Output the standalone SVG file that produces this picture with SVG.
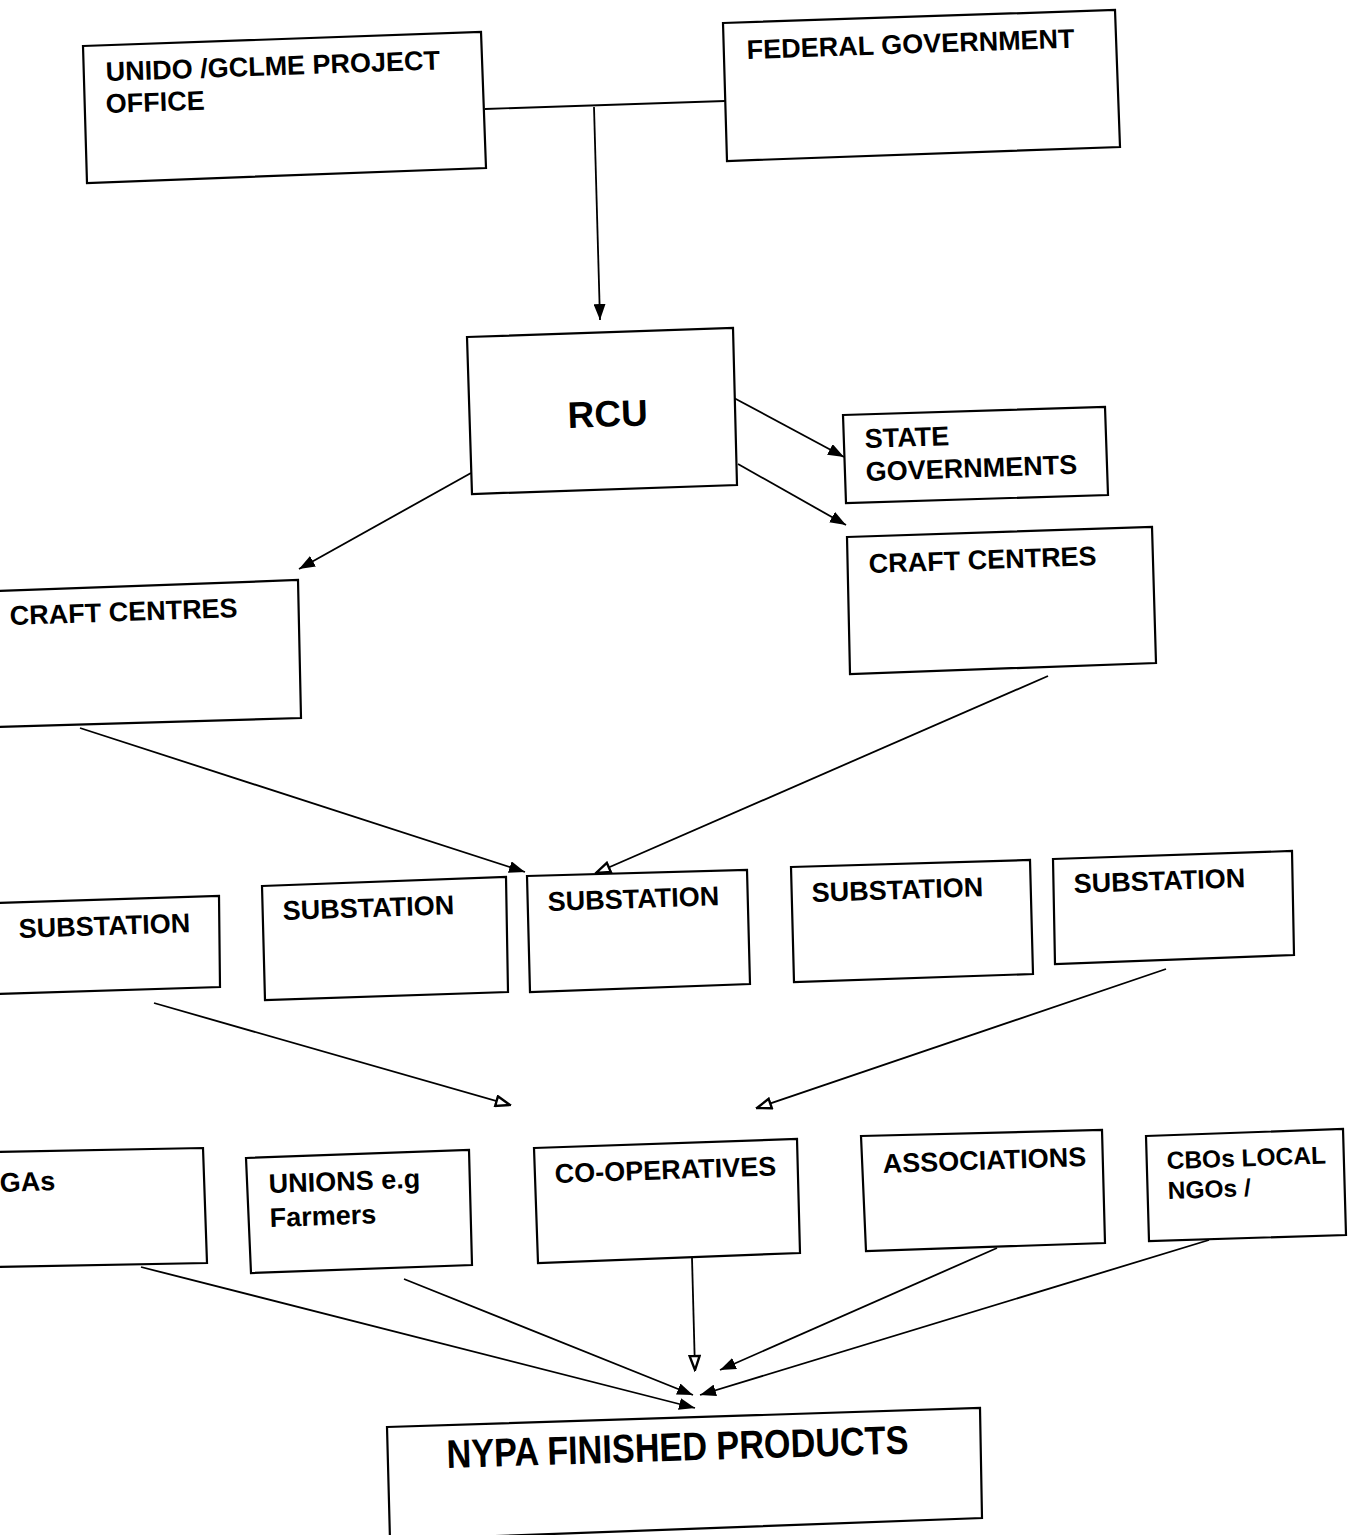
<svg xmlns="http://www.w3.org/2000/svg" width="1357" height="1535" viewBox="0 0 1357 1535">
<defs>
<style>
.box{fill:#fff;stroke:#000;stroke-width:2.2;stroke-linejoin:miter}
.t{font-family:"Liberation Sans",Arial,sans-serif;font-weight:bold;font-size:27px;fill:#000}
.c line{stroke:#000;stroke-width:1.8;fill:none}
.f{marker-end:url(#af)}
.o{marker-end:url(#ao)}
</style>
<marker id="af" viewBox="0 0 16 12" refX="16" refY="6" markerWidth="16" markerHeight="12" markerUnits="userSpaceOnUse" orient="auto"><path d="M0,0 L16,6 L0,12 Z" fill="#000"/></marker>
<marker id="ao" viewBox="0 0 17 13" refX="15.5" refY="6.5" markerWidth="17" markerHeight="13" markerUnits="userSpaceOnUse" orient="auto"><path d="M1.5,1.5 L15.5,6.5 L1.5,11.5 Z" fill="#fff" stroke="#000" stroke-width="2.4"/></marker>
</defs>
<rect width="1357" height="1535" fill="#fff"/>
<g class="c" id="connectors">
<line x1="485" y1="109" x2="725" y2="101"/>
<line class="f" x1="594" y1="107" x2="600" y2="320"/>
<line class="f" x1="734" y1="398" x2="844" y2="457"/>
<line class="f" x1="738" y1="464" x2="846" y2="525"/>
<line class="f" x1="471" y1="473" x2="299" y2="569"/>
<line class="f" x1="80" y1="728" x2="525" y2="872"/>
<line class="o" x1="1048" y1="676" x2="596" y2="873"/>
<line class="o" x1="154" y1="1003" x2="510" y2="1105"/>
<line class="o" x1="1166" y1="969" x2="757" y2="1108"/>
<line class="f" x1="141" y1="1267" x2="695" y2="1408"/>
<line class="f" x1="404" y1="1279" x2="693" y2="1395"/>
<line class="o" x1="692" y1="1258" x2="695" y2="1370"/>
<line class="f" x1="997" y1="1248" x2="720" y2="1370"/>
<line class="f" x1="1209" y1="1240" x2="700" y2="1395"/>
</g>
<g id="unido"><polygon class="box" points="83,46 481,32 486,168 87,183"/>
<text class="t" x="106" y="81" transform="rotate(-2 106 81)">UNIDO /GCLME PROJECT</text>
<text class="t" x="106" y="113" transform="rotate(-2 106 113)">OFFICE</text></g>
<g id="federal"><polygon class="box" points="723,23 1115,10 1120,147 727,161"/>
<text class="t" x="747" y="59" transform="rotate(-2 747 59)">FEDERAL GOVERNMENT</text></g>
<g id="rcu"><polygon class="box" points="467,337 733,328 737,485 472,494"/>
<text class="t" style="font-size:37px" x="568" y="428" transform="rotate(-2 568 428)">RCU</text></g>
<g id="state"><polygon class="box" points="843,415 1105,407 1108,495 846,503"/>
<text class="t" x="865" y="448" transform="rotate(-2 865 448)">STATE</text>
<text class="t" x="866" y="481" transform="rotate(-2 866 481)">GOVERNMENTS</text></g>
<g id="craft-right"><polygon class="box" points="847,537 1152,527 1156,663 850,674"/>
<text class="t" x="869" y="573" transform="rotate(-2 869 573)">CRAFT CENTRES</text></g>
<g id="craft-left"><polygon class="box" points="-2,591 298,580 301,718 -2,727"/>
<text class="t" x="10" y="625" transform="rotate(-2 10 625)">CRAFT CENTRES</text></g>
<g id="sub1"><polygon class="box" points="-2,903 219,896 220,987 -2,994"/>
<text class="t" x="19" y="938" transform="rotate(-2 19 938)">SUBSTATION</text></g>
<g id="sub2"><polygon class="box" points="262,886 506,877 508,992 265,1000"/>
<text class="t" x="283" y="920" transform="rotate(-2 283 920)">SUBSTATION</text></g>
<g id="sub3"><polygon class="box" points="527,876 747,870 750,984 530,992"/>
<text class="t" x="548" y="911" transform="rotate(-2 548 911)">SUBSTATION</text></g>
<g id="sub4"><polygon class="box" points="791,867 1030,860 1033,974 794,982"/>
<text class="t" x="812" y="902" transform="rotate(-2 812 902)">SUBSTATION</text></g>
<g id="sub5"><polygon class="box" points="1053,859 1292,851 1294,955 1055,964"/>
<text class="t" x="1074" y="893" transform="rotate(-2 1074 893)">SUBSTATION</text></g>
<g id="gas"><polygon class="box" points="-2,1152 203,1148 207,1263 -2,1267"/>
<text class="t" x="0" y="1192" transform="rotate(-2 0 1192)">GAs</text></g>
<g id="unions"><polygon class="box" points="246,1158 469,1150 472,1265 251,1273"/>
<text class="t" x="269" y="1193" transform="rotate(-2 269 1193)">UNIONS e.g</text>
<text class="t" x="270" y="1227" transform="rotate(-2 270 1227)">Farmers</text></g>
<g id="coop"><polygon class="box" points="534,1148 797,1139 800,1253 538,1263"/>
<text class="t" x="555" y="1183" transform="rotate(-2 555 1183)">CO-OPERATIVES</text></g>
<g id="assoc"><polygon class="box" points="861,1136 1102,1130 1105,1243 866,1251"/>
<text class="t" x="883" y="1173" transform="rotate(-2 883 1173)">ASSOCIATIONS</text></g>
<g id="cbos"><polygon class="box" points="1146,1136 1343,1129 1346,1235 1149,1241"/>
<text class="t" style="font-size:24.5px" x="1167" y="1169" transform="rotate(-2 1167 1169)">CBOs LOCAL</text>
<text class="t" style="font-size:24.5px" x="1168" y="1199" transform="rotate(-2 1168 1199)">NGOs /</text></g>
<g id="nypa"><polygon class="box" points="387,1427 980,1408 982,1518 390,1540"/>
<text class="t" style="font-size:40px" x="447" y="1468" textLength="462" lengthAdjust="spacingAndGlyphs" transform="rotate(-1.8 447 1468)">NYPA FINISHED PRODUCTS</text></g>
</svg>
